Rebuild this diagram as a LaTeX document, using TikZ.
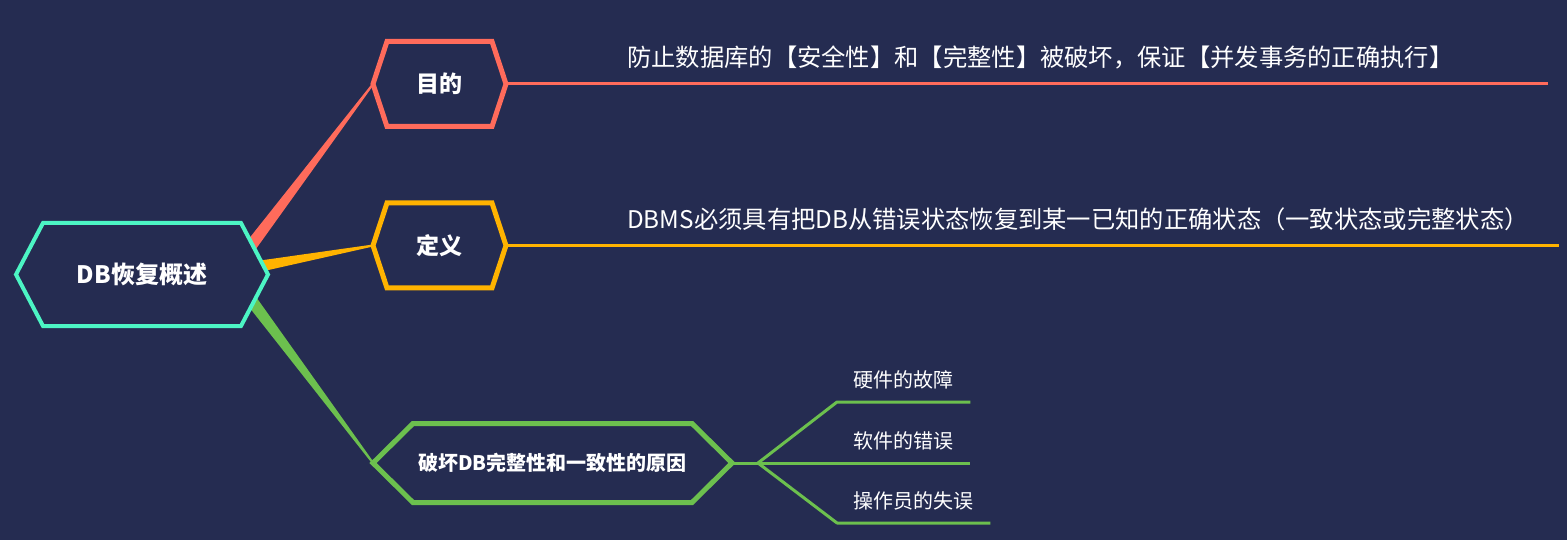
\documentclass[tikz,border=0pt]{standalone}
\usepackage{fontspec}
\setmainfont{Noto Sans CJK SC}
\usetikzlibrary{calc,backgrounds}
\definecolor{bgc}{HTML}{252C51}
\definecolor{rootc}{HTML}{4CF5C4}
\definecolor{aimc}{HTML}{FF6B5B}
\definecolor{defc}{HTML}{FFB300}
\definecolor{causec}{HTML}{6CC04E}
% hexagon round a box node: #1 node, #2 tip length
\newcommand\hexpath[2]{($(#1.west)-(#2,0)$) -- (#1.north west) -- (#1.north east) -- ($(#1.east)+(#2,0)$) -- (#1.south east) -- (#1.south west) -- cycle}

\begin{document}
\begin{tikzpicture}[x=1pt,y=-1pt,
  box/.style={inner sep=0pt,outer sep=0pt,text=white,font=\bfseries\fontsize{23}{27}\selectfont},
  longtext/.style={anchor=west,inner sep=0pt,text=white,font=\fontsize{24.3}{28}\selectfont},
  leaf/.style={anchor=south west,inner xsep=16.5pt,inner ysep=10.4pt,text height=17pt,text depth=4pt,text=white,font=\fontsize{20}{24}\selectfont}]
\useasboundingbox (0,0) rectangle (1567,540);
% box nodes
\node[box,minimum width=198pt,minimum height=103pt,font=\bfseries\fontsize{24}{28}\selectfont] (root) at (142,274.5) {DB恢复概述};
\node[box,minimum width=105pt,minimum height=85pt] (aim) at (439.5,84) {目的};
\node[box,minimum width=105pt,minimum height=85pt] (defn) at (439.5,245.5) {定义};
\node[box,minimum width=279pt,minimum height=79pt,font=\bfseries\fontsize{20}{24}\selectfont] (cause) at (552.5,463) {破坏DB完整性和一致性的原因};
\coordinate (aim-l) at ($(aim.west)-(14,0)$);\coordinate (aim-r) at ($(aim.east)+(14,0)$);
\coordinate (defn-l) at ($(defn.west)-(14,0)$);\coordinate (defn-r) at ($(defn.east)+(14,0)$);
\coordinate (cause-l) at ($(cause.west)-(40,0)$);\coordinate (cause-r) at ($(cause.east)+(40,0)$);
\coordinate (r1) at (250,247);\coordinate (r2) at (250,268);\coordinate (r3) at (248,296);
\begin{pgfonlayer}{background}
\fill[bgc] (0,0) rectangle (1567,540);
% tapered branches
\foreach \a/\b/\c in {r1/aim-l/aimc,r2/defn-l/defc,r3/cause-l/causec}{
  \fill[\c] ($(\a)!6pt!90:(\b)$) -- ($(\b)!1pt!-90:(\a)$) -- ($(\b)!1pt!90:(\a)$) -- ($(\a)!6pt!-90:(\b)$) -- cycle;}
% frames
\filldraw[fill=bgc,draw=rootc,line width=4pt] \hexpath{root}{27};
\filldraw[fill=bgc,draw=aimc,line width=5pt] \hexpath{aim}{14};
\filldraw[fill=bgc,draw=defc,line width=5pt] \hexpath{defn}{14};
\filldraw[fill=bgc,draw=causec,line width=5pt] \hexpath{cause}{40};
\end{pgfonlayer}
% main lines and texts
\coordinate (aim-end) at (1548,84);\coordinate (defn-end) at (1559,245.5);
\draw[aimc,line width=3pt] (aim-r) -- (aim-end);
\draw[defc,line width=3pt] (defn-r) -- (defn-end);
\node[longtext] (aimtxt) at (627,57) {防止数据库的【安全性】和【完整性】被破坏，保证【并发事务的正确执行】};
\node[longtext] (defntxt) at (627,219) {DBMS必须具有把DB从错误状态恢复到某一已知的正确状态（一致状态或完整状态）};
% causes
\coordinate (jn) at (758,463);
\node[leaf] (hw) at (837,402) {硬件的故障};
\node[leaf] (sw) at (837,463) {软件的错误};
\node[leaf] (op) at (837,523) {操作员的失误};
\draw[causec,line width=3pt] (cause-r) -- (jn);
\foreach \n in {hw,sw,op}{\draw[causec,line width=3pt,line join=round] (jn) -- (\n.south west) -- (\n.south east);}
\end{tikzpicture}
\end{document}
